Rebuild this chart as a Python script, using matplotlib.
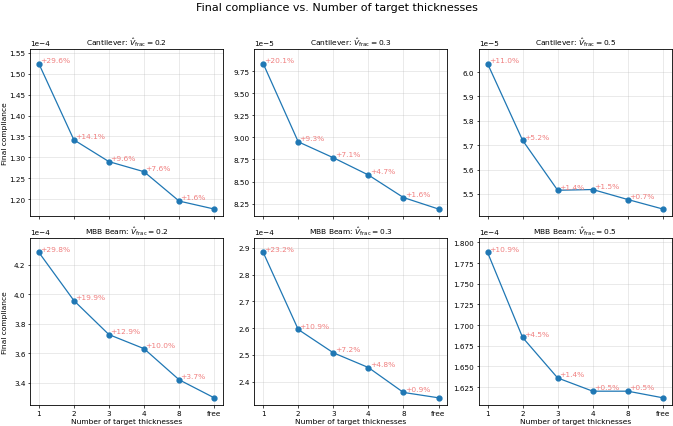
import matplotlib
matplotlib.use("Agg")
import matplotlib.pyplot as plt

# DATA
x_labels = ["1", "2", "3", "4", "8", "free"]

cant_02 = [1.524e-4, 1.342e-4, 1.290e-4, 1.266e-4, 1.196e-4, 1.177e-4]
cant_03 = [9.835e-5, 8.950e-5, 8.770e-5, 8.575e-5, 8.320e-5, 8.190e-5]
cant_05 = [6.035e-5, 5.720e-5, 5.515e-5, 5.518e-5, 5.477e-5, 5.438e-5]
mbb_02 = [4.283e-4, 3.957e-4, 3.727e-4, 3.632e-4, 3.422e-4, 3.300e-4]
mbb_03 = [2.883e-4, 2.595e-4, 2.508e-4, 2.453e-4, 2.360e-4, 2.340e-4]
mbb_05 = [1.788e-4, 1.685e-4, 1.636e-4, 1.620e-4, 1.620e-4, 1.612e-4]

pct_cant_02 = ["+29.6%", "+14.1%", "+9.6%", "+7.6%", "+1.6%"]
pct_cant_03 = ["+20.1%", "+9.3%", "+7.1%", "+4.7%", "+1.6%"]
pct_cant_05 = ["+11.0%", "+5.2%", "+1.4%", "+1.5%", "+0.7%"]
pct_mbb_02 = ["+29.8%", "+19.9%", "+12.9%", "+10.0%", "+3.7%"]
pct_mbb_03 = ["+23.2%", "+10.9%", "+7.2%", "+4.8%", "+0.9%"]
pct_mbb_05 = ["+10.9%", "+4.5%", "+1.4%", "+0.5%", "+0.5%"]

panels = [
    ("Cantilever", "0.2", cant_02, pct_cant_02),
    ("Cantilever", "0.3", cant_03, pct_cant_03),
    ("Cantilever", "0.5", cant_05, pct_cant_05),
    ("MBB Beam", "0.2", mbb_02, pct_mbb_02),
    ("MBB Beam", "0.3", mbb_03, pct_mbb_03),
    ("MBB Beam", "0.5", mbb_05, pct_mbb_05),
]

plt.rcParams["font.size"] = 5.2
plt.rcParams["xtick.major.size"] = 1.8
plt.rcParams["ytick.major.size"] = 1.8
plt.rcParams["xtick.major.pad"] = 1.5
plt.rcParams["ytick.major.pad"] = 1.5
plt.rcParams["xtick.major.width"] = 0.5
plt.rcParams["ytick.major.width"] = 0.5
plt.rcParams["axes.linewidth"] = 0.6

fig, axes = plt.subplots(2, 3, figsize=(6.73, 4.27), dpi=100, sharex=True)
fig.subplots_adjust(left=0.0446, right=0.998, top=0.883, bottom=0.049,
                    wspace=0.163, hspace=0.128)

xs = list(range(len(x_labels)))
for ax, (name, vf, vals, pcts) in zip(axes.flat, panels):
    ax.plot(xs, vals, marker="o", markersize=3.5, color="#1f77b4", linewidth=0.9)
    for i, p in enumerate(pcts):
        ax.annotate(p, (xs[i], vals[i]), xytext=(1, 0.5), textcoords="offset points",
                    ha="left", va="bottom", color="#f08080", fontsize=5.4)
    ax.set_title(name + ": $\\hat{V}_{\\mathrm{frac}} = " + vf + "$", fontsize=5.4, pad=3)
    ax.grid(True, alpha=0.3, linewidth=0.6)
    ax.set_xticks(xs)
    ax.set_xticklabels(x_labels)
    ax.ticklabel_format(style="sci", axis="y", scilimits=(0, 0))
    r = max(vals) - min(vals)
    ax.set_ylim(min(vals) - 0.05 * r, max(vals) + 0.1 * r)

for ax in axes[1]:
    ax.set_xlabel("Number of target thicknesses", fontsize=5.4, labelpad=1.8)
for ax in axes[:, 0]:
    ax.set_ylabel("Final compliance", fontsize=5.4)
    ax.yaxis.set_label_coords(-0.115, 0.5)

fig.suptitle("Final compliance vs. Number of target thicknesses", fontsize=8, y=0.993)

fig.savefig("out.png", dpi=100)
